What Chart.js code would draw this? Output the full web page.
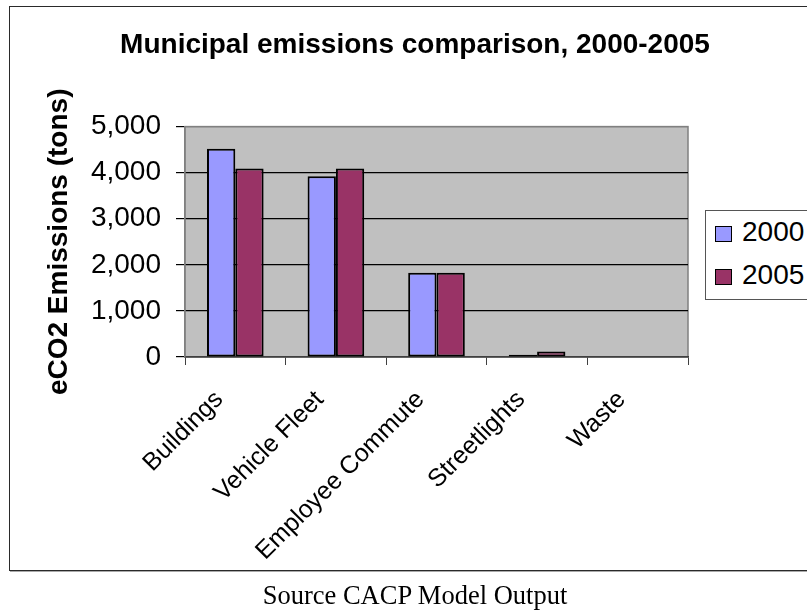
<!DOCTYPE html>
<html>
<head>
<meta charset="utf-8">
<title>Municipal emissions comparison</title>
<script src="https://cdn.jsdelivr.net/npm/chart.js@4.4.1/dist/chart.umd.min.js"></script>
<style>
  html, body { margin: 0; padding: 0; background: #fff; overflow: hidden; width: 807px; height: 614px; }
  #frame { position: absolute; left: 9px; top: 6px; width: 840px; height: 563px; border: 1.5px solid #2a2a2a; box-shadow: 1px 1px 0 #aaa; }
  #wrap { position: absolute; left: 0; top: 0; width: 830px; height: 614px; }
  #legend { position: absolute; left: 705px; top: 210px; width: 130px; height: 88px; border: 1px solid #555; background: #fff;
            font-family: Arial, "Liberation Sans", sans-serif; font-size: 28px; }
  .item { position: absolute; left: 9px; height: 30px; line-height: 30px; white-space: nowrap; }
  .item span { display: inline-block; width: 15px; height: 14px; border: 1.5px solid #000; margin-right: 10px; vertical-align: -1px; }
  #source { position: absolute; left: 0; width: 830px; top: 580px; text-align: center;
            font-family: "Times New Roman", "Liberation Serif", serif; font-size: 26.5px; color: #000; }
</style>
</head>
<body>
<div id="frame"></div>
<div id="wrap"><canvas id="grafico" width="830" height="614"></canvas></div>
<div id="legend"></div>
<div id="source">Source CACP Model Output</div>
<script>
// categorias e valores (toneladas de eCO2)
const categorias = ["Buildings", "Vehicle Fleet", "Employee Commute", "Streetlights", "Waste"];
const ano2000 = [4520, 3920, 1830, 50, 0];
const ano2005 = [4090, 4090, 1830, 120, 0];
const ticksY = [0, 1000, 2000, 3000, 4000, 5000];

const FONTE = 'Arial, "Liberation Sans", sans-serif';
Chart.defaults.color = '#000';
Chart.defaults.font.family = FONTE;

// fundo cinza da area de plotagem
const fundoPlot = {
  id: 'fundoPlot',
  beforeDraw(chart) {
    const a = chart.chartArea;
    const c = chart.ctx;
    c.save();
    c.fillStyle = '#c0c0c0';
    c.fillRect(a.left, a.top, a.right - a.left, a.bottom - a.top);
    c.strokeStyle = '#808080';
    c.lineWidth = 1.5;
    c.strokeRect(a.left, a.top, a.right - a.left, a.bottom - a.top);
    c.restore();
  }
};

var ctx = document.getElementById('grafico').getContext('2d');
var chart = new Chart(ctx, {
  type: 'bar',
  data: {
    labels: categorias,
    datasets: [
      {
        label: '2000',
        backgroundColor: '#9999ff',
        borderColor: '#000',
        borderWidth: 2,
        borderSkipped: false,
        data: ano2000
      },
      {
        label: '2005',
        backgroundColor: '#993366',
        borderColor: '#000',
        borderWidth: 2,
        borderSkipped: false,
        data: ano2005
      }
    ]
  },
  options: {
    responsive: false,
    animation: false,
    layout: { padding: { top: 28, left: 0, right: 0, bottom: 0 } },
    datasets: { bar: { categoryPercentage: 0.563, barPercentage: 1 } },
    plugins: {
      legend: { display: false },
      tooltip: { enabled: false },
      title: {
        display: true,
        text: 'Municipal emissions comparison, 2000-2005',
        font: { size: 28, weight: 'bold' },
        padding: { top: 0, bottom: 65 }
      }
    },
    scales: {
      x: {
        offset: true,
        grid: { offset: true, drawOnChartArea: false, drawTicks: true, tickLength: 8, color: '#404040' },
        border: { color: '#404040', width: 1.5 },
        ticks: { font: { size: 25 }, minRotation: 45, maxRotation: 45, autoSkip: false, padding: 20, labelOffset: -16 },
        afterFit: (s) => { s.height = 614 - 357; }
      },
      y: {
        min: 0,
        max: 5000,
        afterBuildTicks: (s) => { s.ticks = ticksY.map(v => ({ value: v })); },
        grid: {
          tickLength: 9,
          lineWidth: 1.2,
          color: (c) => c.tick && c.tick.value === 5000 ? '#808080' : (c.tick && c.tick.value === 0 ? '#404040' : '#000'),
          tickColor: '#000'
        },
        border: { color: '#808080', width: 1.5 },
        ticks: {
          font: { size: 28 },
          padding: 15,
          callback: (v) => v.toLocaleString('en-US')
        },
        title: {
          display: true,
          text: 'eCO2 Emissions (tons)',
          font: { size: 28, weight: 'bold' },
          padding: { top: 42, bottom: 0 }
        },
        afterFit: (s) => { s.width = 185; }
      },
      // espaco vazio a direita, onde fica a legenda
      lado: {
        position: 'right',
        min: 0,
        max: 1,
        grid: { display: false },
        border: { display: false },
        ticks: { display: false },
        afterFit: (s) => { s.width = 830 - 688; }
      }
    }
  },
  plugins: [fundoPlot]
});

// legenda montada a partir dos datasets
const legenda = document.getElementById('legend');
chart.data.datasets.forEach((ds, i) => {
  const item = document.createElement('div');
  item.className = 'item';
  item.style.top = (6 + i * 43) + 'px';
  const caixa = document.createElement('span');
  caixa.style.background = ds.backgroundColor;
  item.appendChild(caixa);
  item.appendChild(document.createTextNode(ds.label));
  legenda.appendChild(item);
});
</script>
</body>
</html>
